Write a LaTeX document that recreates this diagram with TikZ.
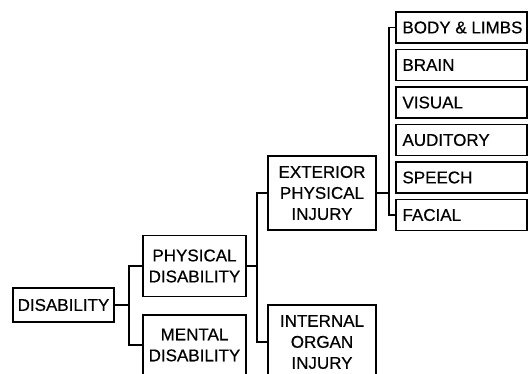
\documentclass[tikz,border=0pt]{standalone}
\usepackage{fontspec}
\setmainfont{Liberation Sans}[BoldFont=Liberation Sans, BoldFeatures={FakeBold=0.5}]
\begin{document}
\begin{tikzpicture}[x=1pt,y=-1pt,
  box/.style={draw, line width=1.1pt, inner sep=0pt, align=center,
    font=\fontsize{17}{21}\selectfont\bfseries},
  leafbox/.style={draw, line width=1.1pt, inner xsep=6.5pt, inner ysep=0pt,
    minimum height=31pt, font=\fontsize{17}{21}\selectfont\bfseries},
  conn/.style={line width=1.1pt}]
\useasboundingbox (0,0) rectangle (531,374);
\clip (0,0) rectangle (531,374);
\newcommand\leaftext[1]{\makebox[118pt][l]{#1}}
\node[box, minimum width=101pt, minimum height=34pt] (dis) at (63.5,305) {DISABILITY};
\node[box, minimum width=103pt, minimum height=61pt] (phys) at (194.5,266) {PHYSICAL\\DISABILITY};
\node[box, minimum width=103pt, minimum height=60pt] (ment) at (194.5,345) {MENTAL\\DISABILITY};
\node[box, minimum width=108pt, minimum height=74pt] (ext) at (322,193) {EXTERIOR\\PHYSICAL\\INJURY};
\node[box, minimum width=108pt, minimum height=74pt] (int) at (322,342) {INTERNAL\\ORGAN\\INJURY};
\node[leafbox] (body) at (461.5,27.5) {\leaftext{BODY \& LIMBS}};
\node[leafbox] (brain) at (461.5,65) {\leaftext{BRAIN}};
\node[leafbox] (vis) at (461.5,102.5) {\leaftext{VISUAL}};
\node[leafbox] (aud) at (461.5,140) {\leaftext{AUDITORY}};
\node[leafbox] (speech) at (461.5,177.5) {\leaftext{SPEECH}};
\node[leafbox] (facial) at (461.5,215) {\leaftext{FACIAL}};
\coordinate (j1) at (129,305);
\coordinate (j2) at (257,266);
\coordinate (j3) at (389,193);
\draw[conn] (dis.east) -- (j1);
\draw[conn] (phys.west) -| (j1) |- (ment.west);
\draw[conn] (phys.east) -- (j2);
\draw[conn] (ext.west) -| (j2) |- (int.west);
\draw[conn] (ext.east) -- (j3);
\draw[conn] (body.west) -| (j3) |- (facial.west);
\end{tikzpicture}
\end{document}
